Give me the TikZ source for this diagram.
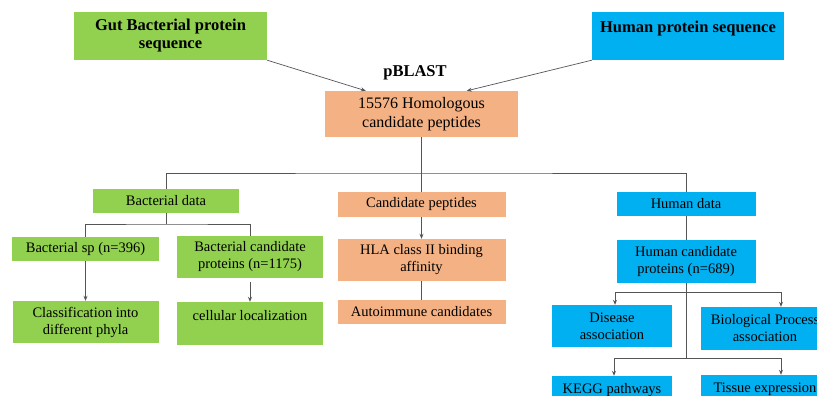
\documentclass[tikz,border=0pt]{standalone}
\usepackage{fontspec}
\setmainfont{Liberation Serif}
\usetikzlibrary{arrows.meta}
\definecolor{gr}{RGB}{146,208,80}
\definecolor{bl}{RGB}{0,176,240}
\definecolor{orr}{RGB}{244,177,131}
\definecolor{ln}{RGB}{85,85,85}
\begin{document}
\begin{tikzpicture}[x=1pt,y=-1pt,
  box/.style={inner sep=0pt, align=center, font=\fontsize{14.5}{17}\selectfont},
  gbox/.style={box, fill=gr},
  bbox/.style={box, fill=bl},
  obox/.style={box, fill=orr},
  title/.style={font=\fontsize{16.5}{18}\selectfont\bfseries},
  ln/.style={draw=ln, line width=0.7pt},
  arr/.style={ln, -{Stealth[length=5pt,width=4pt]}}]
\useasboundingbox (0,0) rectangle (817,396);
\fill[white] (0,0) rectangle (817,396);
% top
\node[gbox, title, minimum width=193pt, minimum height=48pt] (gut) at (170.5,36) {Gut Bacterial protein\\sequence};
\node[bbox, title, minimum width=192pt, minimum height=48pt] (hum) at (688,36) {Human protein sequence\\\mbox{}};
\node[title, inner sep=0pt] (pb) at (415,73) {pBLAST};
\node[obox, font=\fontsize{16}{19}\selectfont, minimum width=193pt, minimum height=46pt] (hom) at (421.5,114) {15576 Homologous\\candidate peptides};
\draw[arr] (gut.south east) -- ([xshift=41pt]hom.north west);
\draw[arr] (hum.south west) -- ([xshift=142pt]hom.north west);
% middle level
\node[gbox, minimum width=146pt, minimum height=24pt] (bd) at (166,201) {Bacterial data};
\node[obox, minimum width=168pt, minimum height=25pt] (cand) at (421.5,204.5) {Candidate peptides};
\node[bbox, minimum width=139pt, minimum height=24pt] (hd) at (686,204) {Human data};
\coordinate (t) at (421.5,173);
\draw[ln] (hom.south) -- (cand.north);
\draw[ln] (bd.north) |- (t) -| (hd.north);
% bacterial branch
\node[gbox, minimum width=147pt, minimum height=24pt] (bsp) at (85.5,249) {Bacterial sp (n=396)};
\node[gbox, minimum width=146pt, minimum height=42pt] (bcp) at (250,257) {Bacterial candidate\\proteins (n=1175)};
\node[gbox, minimum width=146pt, minimum height=42pt] (cls) at (85.5,322) {Classification into\\different phyla};
\node[gbox, minimum width=146pt, minimum height=43pt] (cell) at (250,323.5) {cellular localization\\\mbox{}};
\coordinate (b1) at (166,224);
\draw[ln] (bd.south) -- (b1);
\draw[ln] (bsp.north) |- (b1) -| (bcp.north);
\draw[arr] (bsp.south) -- (cls.north);
\draw[arr] ([yshift=-4pt]bcp.south) -- (cell.north);
% candidate branch
\node[obox, minimum width=168pt, minimum height=42pt] (hla) at (421.5,260) {HLA class II binding\\affinity};
\node[obox, minimum width=168pt, minimum height=24pt] (auto) at (421.5,312) {Autoimmune candidates};
\draw[arr] (cand.south) -- (hla.north);
\draw[ln] (hla.south) -- (auto.north);
% human branch
\node[bbox, minimum width=139pt, minimum height=43pt] (hc) at (686,261.5) {Human candidate\\proteins (n=689)};
\node[bbox, minimum width=120pt, minimum height=42pt] (dis) at (612,326) {Disease\\association};
\node[bbox, minimum width=128pt, minimum height=43pt] (bio) at (765,328.5) {Biological Process\\association};
\node[bbox, minimum width=120pt, minimum height=42pt] (kegg) at (612,397) {KEGG pathways\\\mbox{}};
\node[bbox, minimum width=128pt, minimum height=42pt] (tis) at (765,396) {Tissue expression\\\mbox{}};
\draw[ln] (hd.south) -- (hc.north);
\coordinate (h1) at (686,292);
\coordinate (h2) at (686,358);
\draw[ln] (hc.south) -- (h2);
\draw[arr] (h1) -| ([xshift=3pt]dis.north);
\draw[arr] (h1) -| ([xshift=16pt]bio.north);
\draw[arr] (h2) -| ([xshift=2pt]kegg.north);
\draw[arr] (h2) -| ([xshift=16pt]tis.north);
\end{tikzpicture}
\end{document}
